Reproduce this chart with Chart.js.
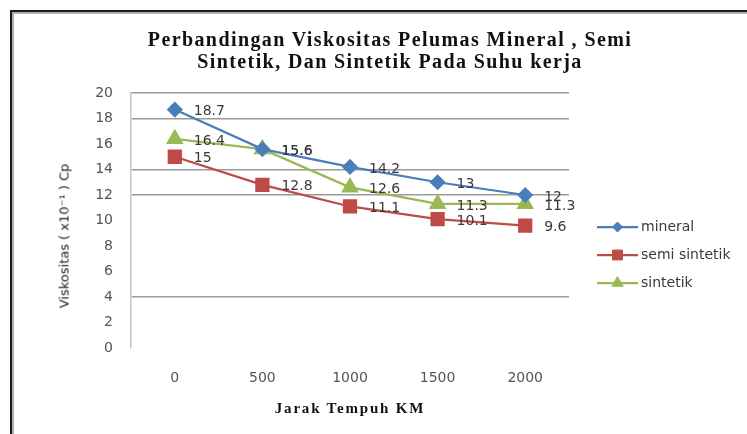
<!DOCTYPE html>
<html>
<head>
<meta charset="utf-8">
<script src="https://cdn.jsdelivr.net/npm/chart.js@4.4.0/dist/chart.umd.min.js"></script>
<style>
  html, body { margin: 0; padding: 0; background: #fff; }
  #wrap { position: relative; width: 747px; height: 434px; overflow: hidden; }
  #frame {
    position: absolute; left: 10px; top: 10px; width: 900px; height: 600px;
    border-left: 2px solid #1a1a1a; border-top: 2px solid #1a1a1a;
    box-shadow: inset 2px 2px 0 #b0b0b0;
  }
  #chart { position: absolute; left: 0; top: 0; }
  .title {
    position: absolute; left: 0; width: 780px; text-align: center;
    font-family: "Liberation Serif", serif; font-weight: bold; color: #111;
  }
  #mainTitle { top: 28px; font-size: 20px; line-height: 22px; letter-spacing: 1.4px; }
  #xTitle { left: 0; width: 700px; top: 399px; font-size: 15px; line-height: 18px; letter-spacing: 1.8px; }
  #yTitle {
    position: absolute; left: 64px; top: 236px; white-space: nowrap;
    transform: translate(-50%, -50%) rotate(-90deg);
    font-family: "DejaVu Sans", sans-serif; font-size: 13px; color: #222;
  }
</style>
</head>
<body>
<div id="wrap">
  <div id="frame"></div>
  <canvas id="chart" width="747" height="434"></canvas>
  <div id="mainTitle" class="title">Perbandingan Viskositas Pelumas Mineral , Semi<br>Sintetik, Dan Sintetik Pada Suhu kerja</div>
  <div id="xTitle" class="title">Jarak Tempuh KM</div>
  <div id="yTitle">Viskositas ( x10⁻¹ ) Cp</div>
</div>
<script>
// data
const categories = ['0', '500', '1000', '1500', '2000'];
const mineral = [18.7, 15.6, 14.2, 13, 12];
const semiSintetik = [15, 12.8, 11.1, 10.1, 9.6];
const sintetik = [16.4, 15.6, 12.6, 11.3, 11.3];
const seriesNames = ['mineral', 'semi sintetik', 'sintetik'];
const gridValues = [20, 18, 14, 12, 4]; // only these gridlines survive in the scan

const labelFont = '14px "DejaVu Sans", sans-serif';

// value labels to the right of each point
const pointLabels = {
  id: 'pointLabels',
  afterDatasetsDraw(chart) {
    const ctx = chart.ctx;
    ctx.save();
    ctx.font = labelFont;
    ctx.fillStyle = '#3a3a3a';
    ctx.textAlign = 'left';
    ctx.textBaseline = 'middle';
    chart.data.datasets.forEach((ds, i) => {
      chart.getDatasetMeta(i).data.forEach((pt, j) => {
        ctx.fillText(String(ds.data[j]), pt.x + 19, pt.y + 2);
      });
    });
    ctx.restore();
  }
};

// legend on the right: short line with the marker in the middle
const sideLegend = {
  id: 'sideLegend',
  afterDraw(chart) {
    const ctx = chart.ctx;
    const x0 = 597, x1 = 638, y0 = 227, step = 28;
    chart.data.datasets.forEach((ds, i) => {
      const y = y0 + i * step;
      ctx.save();
      ctx.strokeStyle = ds.borderColor;
      ctx.lineWidth = ds.borderWidth;
      ctx.beginPath();
      ctx.moveTo(x0, y);
      ctx.lineTo(x1, y);
      ctx.stroke();
      ctx.fillStyle = ds.backgroundColor;
      ctx.strokeStyle = ds.borderColor;
      ctx.lineWidth = 1;
      Chart.helpers.drawPoint(ctx, {
        pointStyle: ds.pointStyle, radius: ds.pointRadius - 1.5, borderWidth: 1
      }, (x0 + x1) / 2, y);
      ctx.font = labelFont;
      ctx.fillStyle = '#3a3a3a';
      ctx.textAlign = 'left';
      ctx.textBaseline = 'middle';
      ctx.fillText(ds.label, x1 + 3, y);
      ctx.restore();
    });
  }
};

new Chart(document.getElementById('chart'), {
  type: 'line',
  data: {
    labels: categories,
    datasets: [
      {
        label: seriesNames[0], data: mineral,
        borderColor: '#4a7ebb', backgroundColor: '#4a7ebb', borderWidth: 2.25,
        pointStyle: 'rectRot', pointRadius: 6.5
      },
      {
        label: seriesNames[1], data: semiSintetik,
        borderColor: '#be4b48', backgroundColor: '#be4b48', borderWidth: 2.25,
        pointStyle: 'rect', pointRadius: 8.5
      },
      {
        label: seriesNames[2], data: sintetik,
        borderColor: '#98b954', backgroundColor: '#98b954', borderWidth: 2.25,
        pointStyle: 'triangle', pointRadius: 8
      }
    ]
  },
  options: {
    responsive: false,
    animation: false,
    layout: { padding: { left: 0, top: 93, right: 178, bottom: 10 } },
    elements: { line: { tension: 0 }, point: { borderWidth: 1 } },
    plugins: {
      legend: { display: false },
      tooltip: { enabled: false }
    },
    scales: {
      x: {
        offset: true,
        grid: { display: false, drawTicks: false },
        border: { display: false },
        ticks: { color: '#555', font: { family: '"DejaVu Sans", sans-serif', size: 14 }, padding: 22, maxRotation: 0 },
        afterFit(scale) { scale.height = 76; }
      },
      y: {
        min: 0, max: 20,
        ticks: { stepSize: 2, color: '#555', font: { family: '"DejaVu Sans", sans-serif', size: 14 }, padding: 18 },
        grid: {
          drawTicks: false,
          lineWidth: 1.5,
          color: (c) => gridValues.includes(c.tick && c.tick.value) ? '#9a9a9a' : 'rgba(0,0,0,0)'
        },
        border: { display: true, color: '#c4c4c4', width: 1.5 },
        afterFit(scale) { scale.width = 131; }
      }
    }
  },
  plugins: [pointLabels, sideLegend]
});
</script>
</body>
</html>
